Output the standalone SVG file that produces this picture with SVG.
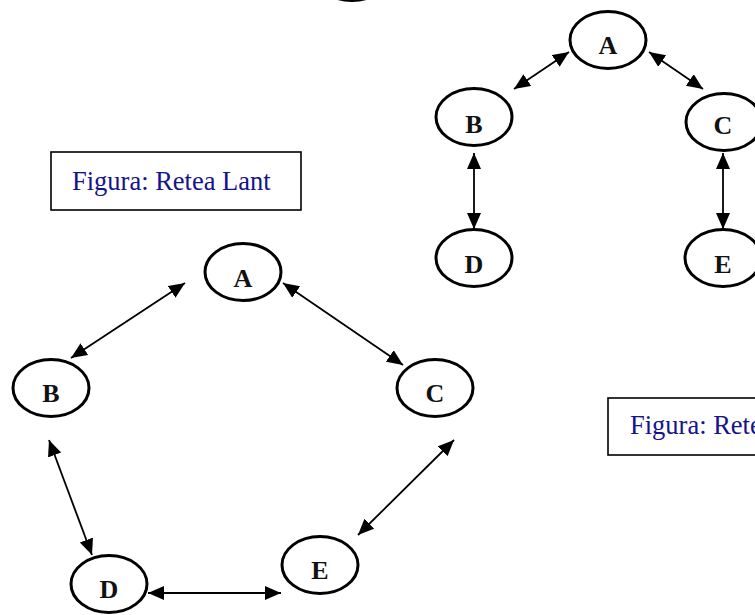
<svg xmlns="http://www.w3.org/2000/svg" width="755" height="615" viewBox="0 0 755 615">
  <style>
    .node ellipse { fill: #ffffff; stroke: #000000; stroke-width: 3; }
    .node text { font-family: "Liberation Serif", "Times New Roman", serif; font-weight: bold; font-size: 26px; fill: #111111; text-anchor: middle; }
    .edge { stroke: #000000; stroke-width: 1.8; fill: none; marker-start: url(#tip); marker-end: url(#tip); }
    .caption rect { fill: #ffffff; stroke: #000000; stroke-width: 1.6; }
    .caption text { font-family: "Liberation Serif", "Times New Roman", serif; font-size: 26.5px; fill: #14148c; }
  </style>
  <defs>
    <marker id="tip" markerUnits="userSpaceOnUse" markerWidth="17" markerHeight="15" refX="16" refY="7" orient="auto-start-reverse">
      <path d="M0,0 L16,7 L0,14 Z" fill="#000000"/>
    </marker>
  </defs>
  <rect width="755" height="615" fill="#ffffff"/>

  <!-- partly visible node at the top edge -->
  <ellipse cx="352" cy="-28" rx="38" ry="28.5" fill="none" stroke="#000000" stroke-width="3"/>

  <!-- connectors -->
  <g id="connectors">
    <!-- tree network -->
    <line class="edge" x1="514" y1="89" x2="569" y2="52"/>
    <line class="edge" x1="649" y1="52" x2="703" y2="89"/>
    <line class="edge" x1="474" y1="153" x2="474" y2="229"/>
    <line class="edge" x1="723" y1="153" x2="723" y2="229"/>
    <!-- ring network -->
    <line class="edge" x1="71" y1="358" x2="185" y2="283"/>
    <line class="edge" x1="283" y1="283" x2="403" y2="365"/>
    <line class="edge" x1="49" y1="440" x2="92" y2="555"/>
    <line class="edge" x1="454" y1="440" x2="358" y2="535"/>
    <line class="edge" x1="148" y1="593" x2="281" y2="593"/>
  </g>

  <!-- tree network nodes -->
  <g id="tA" class="node"><ellipse cx="608" cy="40" rx="38" ry="28.5"/><text x="608" y="54">A</text></g>
  <g id="tB" class="node"><ellipse cx="474" cy="117" rx="38" ry="28.5"/><text x="474" y="133">B</text></g>
  <g id="tC" class="node"><ellipse cx="724" cy="122" rx="38" ry="28.5"/><text x="723" y="134">C</text></g>
  <g id="tD" class="node"><ellipse cx="474" cy="258" rx="38" ry="28.5"/><text x="474" y="273">D</text></g>
  <g id="tE" class="node"><ellipse cx="723" cy="258" rx="38" ry="28.5"/><text x="723" y="273">E</text></g>

  <!-- ring network nodes -->
  <g id="rA" class="node"><ellipse cx="243" cy="272" rx="38" ry="28.5"/><text x="243" y="287">A</text></g>
  <g id="rB" class="node"><ellipse cx="51" cy="388" rx="38" ry="28.5"/><text x="51" y="402">B</text></g>
  <g id="rC" class="node"><ellipse cx="435" cy="388" rx="38" ry="28.5"/><text x="435" y="402">C</text></g>
  <g id="rD" class="node"><ellipse cx="109" cy="584" rx="38" ry="28.5"/><text x="109" y="598">D</text></g>
  <g id="rE" class="node"><ellipse cx="320" cy="565" rx="38" ry="28.5"/><text x="320" y="579">E</text></g>

  <!-- captions -->
  <g id="captionRing" class="caption">
    <rect x="51" y="152" width="250" height="58"/>
    <text x="72" y="190">Figura: Retea Lant</text>
  </g>
  <g id="captionTree" class="caption">
    <rect x="608" y="398" width="200" height="57"/>
    <text x="630" y="434">Figura: Retea</text>
  </g>
</svg>
